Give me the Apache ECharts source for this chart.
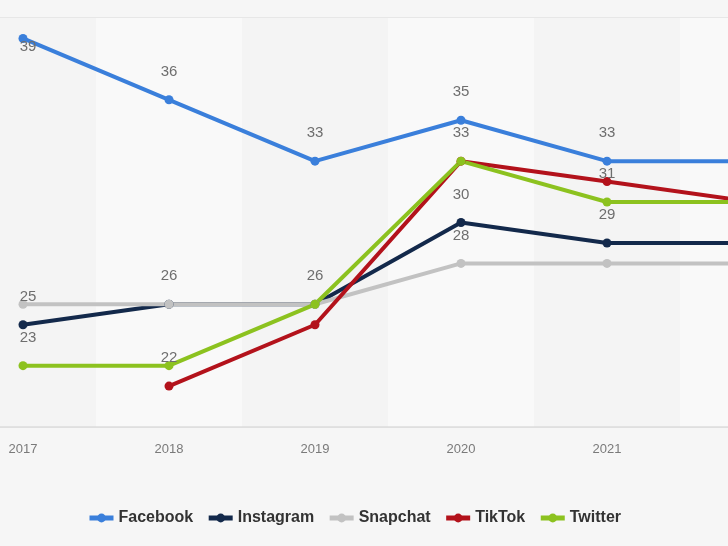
<!DOCTYPE html>
<html>
<head>
<meta charset="utf-8">
<script src="https://cdn.jsdelivr.net/npm/echarts@6/dist/echarts.min.js"></script>
<style>
html,body{margin:0;padding:0;background:#f6f6f6;}
#chart{width:728px;height:546px;}
</style>
</head>
<body>
<div id="chart"></div>
<script>
var years = ['2017', '2018', '2019', '2020', '2021', '2022'];
var seriesNames = ['Facebook', 'Instagram', 'Snapchat', 'TikTok', 'Twitter'];
var facebook  = [39, 36, 33, 35, 33, 33];
var instagram = [25, 26, 26, 30, 29, 29];
var snapchat  = [26, 26, 26, 28, 28, 28];
var tiktok    = [null, 22, 25, 33, 32, 31];
var twitter   = [23, 23, 26, 33, 31, 31];
// which points show a value label
var facebookLabels  = [1, 1, 1, 1, 1, 0];
var instagramLabels = [1, 0, 0, 1, 1, 0];
var snapchatLabels  = [0, 1, 1, 1, 0, 0];
var tiktokLabels    = [0, 1, 0, 1, 0, 0];
var twitterLabels   = [1, 0, 0, 0, 1, 0];
var yTicks = [20, 25, 30, 35, 40];

var colors = ['#3a7fdb', '#13294b', '#c2c2c2', '#b3121b', '#8cc21f'];
var values = [facebook, instagram, snapchat, tiktok, twitter];
var labelFlags = [facebookLabels, instagramLabels, snapchatLabels, tiktokLabels, twitterLabels];

function buildData(vals, flags, sIdx) {
  return vals.map(function (v, i) {
    var item = { value: v, label: { show: !!flags[i] } };
    if (i === 0) item.label.offset = [5, 0];
    if (sIdx === 0 && i === 0) {
      item.label.position = 'inside';
      item.label.offset = [5, 8];
    }
    return item;
  });
}

var series = seriesNames.map(function (name, s) {
  return {
    name: name,
    type: 'line',
    data: buildData(values[s], labelFlags[s], s),
    color: colors[s],
    symbol: 'circle',
    symbolSize: 9,
    lineStyle: { width: 4 },
    label: {
      position: 'top',
      distance: 16,
      color: '#6e6e6e',
      fontSize: 15,
      fontFamily: 'Liberation Sans'
    },
    emphasis: { disabled: true },
    animation: false
  };
});

var chart = echarts.init(document.getElementById('chart'), null, { renderer: 'canvas' });
chart.setOption({
  backgroundColor: '#f6f6f6',
  animation: false,
  grid: { left: -50, right: -98, top: 18, bottom: 119, outerBoundsMode: 'none', containLabel: false },
  xAxis: {
    type: 'category',
    data: years,
    boundaryGap: true,
    axisLine: { lineStyle: { color: '#dcdcdc', width: 1.5 } },
    axisTick: { show: false },
    axisLabel: { color: '#7a7a7a', fontSize: 13, fontFamily: 'Liberation Sans', margin: 16 },
    splitArea: { show: true, areaStyle: { color: ['#f4f4f4', '#f9f9f9'] } }
  },
  yAxis: {
    type: 'value',
    min: yTicks[0],
    max: yTicks[yTicks.length - 1],
    interval: yTicks[1] - yTicks[0],
    axisLine: { show: false },
    axisTick: { show: false },
    axisLabel: { show: false },
    splitLine: { lineStyle: { color: '#e2e2e2', width: 1.5 } }
  },
  legend: {
    data: seriesNames,
    left: 82,
    top: 505,
    itemWidth: 24,
    itemHeight: 11,
    itemGap: 13,
    lineStyle: { width: 5 },
    textStyle: { color: '#333', fontSize: 16, fontWeight: 'bold', fontFamily: 'Liberation Sans' }
  },
  series: series
});
</script>
</body>
</html>
